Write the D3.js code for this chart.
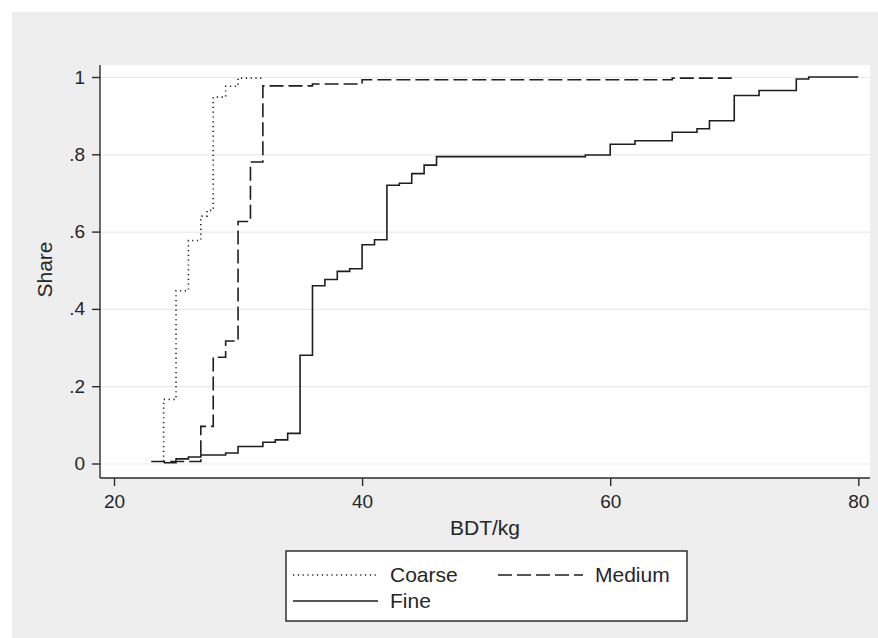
<!DOCTYPE html>
<html lang="en">

<head>
  <meta charset="UTF-8">
  <title>Share by price</title>
  <style>
    body { margin: 0; background: #ffffff; }
    svg text { font-family: "Liberation Sans", Arial, sans-serif; fill: #262626; }
    .gridlines line { stroke: #e9e9e9; stroke-width: 1.2; }
    .gridlines path { display: none; }
    .axis path, .axis line { stroke: #2b2b2b; stroke-width: 1.4; }
  </style>
  <script src="https://d3js.org/d3.v7.min.js"></script>
</head>

<body>
  <svg id="chart" width="878" height="638"></svg>
  <script>
    // cumulative share of observations at or below each price (BDT/kg)
    const coarse = [
      [24, 0.005], [24, 0.166], [25, 0.447], [26, 0.51], [26, 0.577], [27, 0.64],
      [27.5, 0.655], [28, 0.948], [29, 0.976], [30, 0.997], [32, 1.0]
    ];
    const medium = [
      [23, 0.005], [27, 0.096], [28, 0.275], [29, 0.317], [30, 0.626], [31, 0.78],
      [32, 0.977], [36, 0.982], [40, 0.993], [65, 0.997], [70, 1.0]
    ];
    const fine = [
      [24, 0.002], [25, 0.012], [26, 0.017], [27, 0.022], [29, 0.027], [30, 0.044],
      [32, 0.055], [33, 0.061], [34, 0.078], [35, 0.28], [36, 0.46], [37, 0.476],
      [38, 0.497], [39, 0.504], [40, 0.566], [41, 0.579], [42, 0.72], [43, 0.725],
      [44, 0.75], [45, 0.772], [46, 0.794], [58, 0.798], [60, 0.826], [62, 0.835],
      [65, 0.857], [67, 0.866], [68, 0.887], [70, 0.952], [72, 0.965], [75, 0.995],
      [76, 1.0], [80, 1.0]
    ];
    const xTicks = [20, 40, 60, 80];
    const yTicks = [0, 0.2, 0.4, 0.6, 0.8, 1];
    const seriesNames = ["Coarse", "Medium", "Fine"];

    const svg = d3.select("svg#chart");
    const plot = { left: 100, right: 870, top: 65, bottom: 478 };

    // outer graph region
    svg.append("rect")
      .attr("x", 12).attr("y", 12)
      .attr("width", 878 - 12).attr("height", 638 - 12)
      .attr("fill", "#eeeeee");

    svg.append("rect")
      .attr("x", plot.left).attr("y", plot.top)
      .attr("width", plot.right - plot.left).attr("height", plot.bottom - plot.top)
      .attr("fill", "#ffffff");

    const xScale = d3.scaleLinear().domain([20, 80]).range([114, 858.3]);
    const yScale = d3.scaleLinear().domain([0, 1]).range([463.5, 77]);

    let yGrid = d3.axisLeft(yScale)
      .tickValues(yTicks)
      .tickSize(-(plot.right - plot.left))
      .tickFormat("");
    svg.append("g")
      .attr("class", "y gridlines")
      .attr("transform", `translate(${plot.left},0)`)
      .call(yGrid);

    const fmt = d => d === 0 ? "0" : d === 1 ? "1" : d3.format(".1f")(d).replace(/^0/, "");

    let leftAxis = d3.axisLeft(yScale)
      .tickValues(yTicks)
      .tickSize(8)
      .tickPadding(7)
      .tickFormat(fmt)
      .tickSizeOuter(0);
    let yAxis = svg.append("g")
      .attr("class", "y axis")
      .attr("transform", `translate(${plot.left},0)`)
      .call(leftAxis);
    yAxis.select(".domain").attr("d", `M0,${plot.top}V${plot.bottom}`);
    yAxis.selectAll("text").style("font-size", "19px").attr("fill", "#262626");

    let bottomAxis = d3.axisBottom(xScale)
      .tickValues(xTicks)
      .tickSize(8)
      .tickPadding(9)
      .tickSizeOuter(0);
    let xAxis = svg.append("g")
      .attr("class", "x axis")
      .attr("transform", `translate(0,${plot.bottom})`)
      .call(bottomAxis);
    xAxis.select(".domain").attr("d", `M${plot.left},0H${plot.right}`);
    xAxis.selectAll("text").style("font-size", "19px").attr("fill", "#262626");

    svg.append("text")
      .attr("x", (plot.left + plot.right) / 2 + 0)
      .attr("y", 535)
      .attr("text-anchor", "middle")
      .style("font-size", "21px")
      .text("BDT/kg");

    svg.append("text")
      .attr("transform", `translate(52,${(plot.top + plot.bottom) / 2 - 2}) rotate(-90)`)
      .attr("text-anchor", "middle")
      .style("font-size", "21px")
      .text("Share");

    const styles = [
      { dash: "1.2,3.6" },
      { dash: "14,5" },
      { dash: null }
    ];

    const line = d3.line()
      .x(d => xScale(d[0]))
      .y(d => yScale(d[1]))
      .curve(d3.curveStepAfter);

    [coarse, medium, fine].forEach((data, i) => {
      svg.append("path")
        .datum(data)
        .attr("fill", "none")
        .attr("stroke", "#1e1e1e")
        .attr("stroke-width", 1.6)
        .attr("stroke-dasharray", styles[i].dash)
        .attr("d", line);
    });

    // legend
    const legend = svg.append("g");
    legend.append("rect")
      .attr("x", 286).attr("y", 551)
      .attr("width", 401).attr("height", 70)
      .attr("fill", "#ffffff")
      .attr("stroke", "#222")
      .attr("stroke-width", 1.4);

    const legendPos = [
      { x: 293, y: 575, tx: 390 },
      { x: 498, y: 575, tx: 595 },
      { x: 293, y: 601, tx: 390 }
    ];
    seriesNames.forEach((name, i) => {
      const p = legendPos[i];
      legend.append("line")
        .attr("x1", p.x).attr("x2", p.x + 85)
        .attr("y1", p.y).attr("y2", p.y)
        .attr("stroke", "#1e1e1e")
        .attr("stroke-width", 1.6)
        .attr("stroke-dasharray", styles[i].dash);
      legend.append("text")
        .attr("x", p.tx).attr("y", p.y + 7)
        .style("font-size", "21px")
        .text(name);
    });
  </script>
</body>

</html>
